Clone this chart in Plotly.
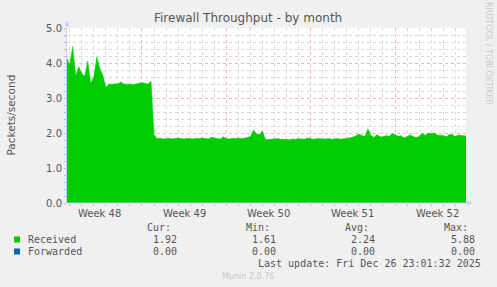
import plotly.graph_objects as go
import pandas as pd

# ---------------- data ----------------
received = [
    4.15, 3.94, 4.47, 3.62, 3.90, 3.70, 3.62, 4.06, 3.42, 3.60,
    4.18, 3.85, 3.65, 3.30, 3.40, 3.39, 3.41, 3.40, 3.46, 3.40,
    3.39, 3.40, 3.38, 3.40, 3.41, 3.44, 3.42, 3.40, 3.48, 1.95,
    1.84, 1.85, 1.83, 1.84, 1.85, 1.83, 1.84, 1.86, 1.84, 1.83,
    1.85, 1.84, 1.83, 1.85, 1.84, 1.86, 1.84, 1.83, 1.88, 1.85,
    1.84, 1.83, 1.89, 1.84, 1.83, 1.85, 1.84, 1.86, 1.84, 1.85,
    1.87, 1.90, 2.08, 1.98, 1.95, 2.06, 1.81, 1.82, 1.83, 1.82,
    1.84, 1.82, 1.83, 1.82, 1.81, 1.83, 1.82, 1.84, 1.83, 1.82,
    1.86, 1.83, 1.82, 1.84, 1.83, 1.82, 1.83, 1.84, 1.82, 1.83,
    1.84, 1.82, 1.83, 1.84, 1.85, 1.88, 1.92, 1.97, 1.93, 1.90,
    2.12, 1.93, 1.87, 1.96, 1.89, 1.89, 1.93, 1.90, 1.98, 1.96,
    1.91, 1.92, 1.86, 1.90, 1.94, 1.90, 1.87, 1.90, 1.99, 1.93,
    2.00, 1.98, 2.00, 1.94, 1.94, 1.93, 1.89, 1.96, 1.95, 1.90,
    1.94, 1.92, 1.92, 1.92,
]
forwarded = [0.0] * len(received)
times = pd.date_range("2025-11-24 18:00", periods=len(received), freq="6h")

week_labels = ["Week 48", "Week 49", "Week 50", "Week 51", "Week 52"]
week_centers = ["2025-11-27 12:00", "2025-12-04 12:00", "2025-12-11 12:00",
                "2025-12-18 12:00", "2025-12-25 12:00"]

series_names = ["Received", "Forwarded"]
series_colors = ["#00CC00", "#0066B3"]
stat_headers = ["Cur:", "Min:", "Avg:", "Max:"]
stat_values = [["1.92", "1.61", "2.24", "5.88"],
               ["0.00", "0.00", "0.00", "0.00"]]

title = "Firewall Throughput - by month"
y_title = "Packets/second"
last_update = "Last update: Fri Dec 26 23:01:32 2025"
footer = "Munin 2.0.76"
side_text = "RRDTOOL / TOBI OETIKER"

x_start = "2025-11-24 18:40"
x_end = "2025-12-27 21:20"

# ---------------- layout constants (pixels) ----------------
W, H = 497, 287
L, R, T, B = 67, 466, 28, 203


def px(xp):
    return (xp - L) / (R - L)


def py(yp):
    return (B - yp) / (B - T)


DAY = 86400000
RED = "rgba(235,130,130,0.6)"
GRAY = "#D8D8D8"
TXT = "#555555"
AXC = "#C8D0F0"
SANS = "DejaVu Sans"
MONO = "DejaVu Sans Mono"

fig = go.Figure()
fig.add_trace(go.Scatter(x=times, y=received, mode="lines", fill="tozeroy",
                         fillcolor=series_colors[0],
                         line=dict(color=series_colors[0], width=0.5),
                         hoverinfo="skip", showlegend=False))
fig.add_trace(go.Scatter(x=times, y=forwarded, mode="lines",
                         line=dict(color=series_colors[1], width=0.5),
                         hoverinfo="skip", showlegend=False))

fig.update_layout(
    width=W, height=H,
    margin=dict(l=L, r=W - R, t=T, b=H - B, pad=0),
    paper_bgcolor="#F0F0F0",
    plot_bgcolor="#FFFFFF",
    font=dict(family=SANS, size=10, color=TXT),
    showlegend=False,
    xaxis=dict(
        type="date", range=[x_start, x_end],
        tick0="2025-12-01", dtick=7 * DAY,
        showgrid=True, gridcolor=RED, griddash="dot", gridwidth=1,
        showticklabels=False, ticks="outside", ticklen=2, tickcolor=RED,
        zeroline=False, showline=False,
        minor=dict(tick0="2025-12-01", dtick=DAY, showgrid=True,
                   gridcolor=GRAY, griddash="dot", gridwidth=1,
                   ticks="outside", ticklen=2, tickcolor="#BBBBBB"),
    ),
    yaxis=dict(
        range=[0, 5], tick0=0, dtick=1, tickformat=".1f",
        showgrid=True, gridcolor=RED, griddash="dot", gridwidth=1,
        ticks="outside", ticklen=2, tickcolor=RED,
        tickfont=dict(family=SANS, size=10, color=TXT),
        zeroline=False,
        showline=True, linecolor=AXC, linewidth=1,
        minor=dict(dtick=0.2, showgrid=True, gridcolor=GRAY,
                   griddash="dot", gridwidth=1,
                   ticks="outside", ticklen=2, tickcolor="#BBBBBB"),
    ),
)

ann = []
# title
ann.append(dict(text=title, x=px(248), y=py(18), xref="paper", yref="paper",
                xanchor="center", yanchor="middle", showarrow=False,
                font=dict(family=SANS, size=12, color=TXT)))
# y axis title
ann.append(dict(text=y_title, x=px(10.5), y=py(115), xref="paper", yref="paper",
                xanchor="center", yanchor="middle", textangle=-90, showarrow=False,
                font=dict(family=SANS, size=10.5, color=TXT)))
# side text
ann.append(dict(text=side_text, x=px(489), y=py(53), xref="paper", yref="paper",
                xanchor="center", yanchor="middle", textangle=90, showarrow=False,
                font=dict(family=SANS, size=8, color="#C8C8C8")))
# week labels
for lab, c in zip(week_labels, week_centers):
    ann.append(dict(text=lab, x=c, y=py(213), xref="x", yref="paper",
                    xanchor="center", yanchor="middle", showarrow=False,
                    font=dict(family=SANS, size=10, color=TXT)))
# legend header
col_right = [179, 278, 377, 476.5]
for h, cx in zip(stat_headers, col_right):
    ann.append(dict(text=h, x=px(cx - 6.5), y=py(227.5), xref="paper", yref="paper",
                    xanchor="right", yanchor="middle", showarrow=False,
                    font=dict(family=MONO, size=10, color=TXT)))
row_y = [239.5, 251.5]
for name, col, vals, ry in zip(series_names, series_colors, stat_values, row_y):
    ann.append(dict(text=name, x=px(26), y=py(ry), xref="paper", yref="paper",
                    xanchor="left", yanchor="middle", showarrow=False,
                    font=dict(family=MONO, size=10, color=TXT)))
    for v, cx in zip(vals, col_right):
        ann.append(dict(text=v, x=px(cx), y=py(ry), xref="paper", yref="paper",
                        xanchor="right", yanchor="middle", showarrow=False,
                        font=dict(family=MONO, size=10, color=TXT)))
ann.append(dict(text=last_update, x=px(483), y=py(263), xref="paper", yref="paper",
                xanchor="right", yanchor="middle", showarrow=False,
                font=dict(family=MONO, size=10, color=TXT)))
ann.append(dict(text=footer, x=px(248), y=py(276.5), xref="paper", yref="paper",
                xanchor="center", yanchor="middle", showarrow=False,
                font=dict(family=SANS, size=8, color="#C8C8C8")))
# axis arrows
ann.append(dict(x=px(472), y=0, xref="paper", yref="paper", ax=-8, ay=0,
                axref="pixel", ayref="pixel", showarrow=True, arrowhead=2,
                arrowsize=1, arrowwidth=1, arrowcolor=AXC, text=""))
ann.append(dict(x=0, y=py(21), xref="paper", yref="paper", ax=0, ay=8,
                axref="pixel", ayref="pixel", showarrow=True, arrowhead=2,
                arrowsize=1, arrowwidth=1, arrowcolor=AXC, text=""))
fig.update_layout(annotations=ann)

# legend squares
shapes = []
for col, ry in zip(series_colors, row_y):
    shapes.append(dict(type="rect", xref="paper", yref="paper",
                       x0=px(14), x1=px(20), y0=py(ry + 3), y1=py(ry - 3),
                       fillcolor=col, line=dict(width=0)))
# baseline axis line
shapes.append(dict(type="line", xref="paper", yref="paper", x0=0, x1=px(468),
                   y0=0, y1=0, line=dict(color=AXC, width=1)))
fig.update_layout(shapes=shapes)

fig.write_html("out.html")
